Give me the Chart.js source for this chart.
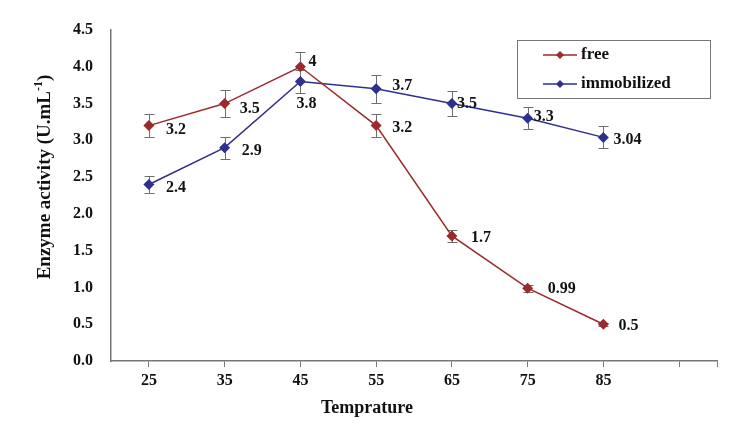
<!DOCTYPE html>
<html>
<head>
<meta charset="utf-8">
<script src="https://cdn.jsdelivr.net/npm/chart.js@4"></script>
<style>
html,body{margin:0;padding:0;background:#fff;}
#wrap{width:754px;height:435px;}
</style>
</head>
<body>
<div id="wrap"><canvas id="c" width="754" height="435"></canvas></div>
<script>
const temps = [25, 35, 45, 55, 65, 75, 85];
const xTickValues = [25, 35, 45, 55, 65, 75, 85, 95, 100];
const yTicks = [0, 0.5, 1.0, 1.5, 2.0, 2.5, 3.0, 3.5, 4.0, 4.5];
const freeVals = [3.2, 3.5, 4, 3.2, 1.7, 0.99, 0.5];
const freeErr = [0.16, 0.18, 0.2, 0.16, 0.08, 0.05, 0.02];
const freeLabels = ['3.2', '3.5', '4', '3.2', '1.7', '0.99', '0.5'];
const immVals = [2.4, 2.9, 3.8, 3.7, 3.5, 3.3, 3.04];
const immErr = [0.11, 0.15, 0.15, 0.19, 0.17, 0.15, 0.15];
const immLabels = ['2.4', '2.9', '3.8', '3.7', '3.5', '3.3', '3.04'];
const yTitleMain = 'Enzyme activity (U.mL';
const yTitleSup = '-1';
const yTitleEnd = ')';
const xTitle = 'Temprature';

const FONT = '"Liberation Serif", "Times New Roman", serif';
const RED = '#9a2a2c';
const BLUE = '#2e2f8f';

// label offsets (style): [dx, dy] relative to point
const freeOff = [[17,4],[15,5],[8,-5],[16,2],[19,2],[20,1],[15,2]];
const immOff = [[17,3],[17,3],[-4,22],[16,-3],[5,0],[6,-1],[10,2]];

function pts(vals){ return temps.map((t,i)=>({x:t, y:vals[i]})); }

const errPlugin = {
  id: 'errbars',
  beforeDatasetsDraw(chart){
    const ctx = chart.ctx, xs = chart.scales.x, ys = chart.scales.y;
    ctx.save();
    ctx.strokeStyle = '#6e6e6e';
    ctx.lineWidth = 1;
    chart.data.datasets.forEach(ds=>{
      ds.err.forEach((e,i)=>{
        const x = Math.round(xs.getPixelForValue(temps[i]))+0.5;
        const yt = Math.round(ys.getPixelForValue(ds.vals[i]+e))+0.5;
        const yb = Math.round(ys.getPixelForValue(ds.vals[i]-e))+0.5;
        ctx.beginPath();
        ctx.moveTo(x, yt); ctx.lineTo(x, yb);
        ctx.moveTo(x-5, yt); ctx.lineTo(x+5, yt);
        ctx.moveTo(x-5, yb); ctx.lineTo(x+5, yb);
        ctx.stroke();
      });
    });
    ctx.restore();
  },
  afterDatasetsDraw(chart){
    const ctx = chart.ctx, xs = chart.scales.x, ys = chart.scales.y;
    ctx.save();
    ctx.fillStyle = '#111';
    ctx.font = 'bold 16px ' + FONT;
    ctx.textBaseline = 'middle';
    ctx.textAlign = 'left';
    chart.data.datasets.forEach(ds=>{
      ds.lbls.forEach((l,i)=>{
        const x = xs.getPixelForValue(temps[i]);
        const y = ys.getPixelForValue(ds.vals[i]);
        ctx.fillText(l, x + ds.off[i][0], y + ds.off[i][1]);
      });
    });
    // x axis title
    ctx.font = 'bold 18px ' + FONT;
    ctx.textAlign = 'center';
    ctx.fillText(xTitle, 367, 408);
    // y axis title (rotated, with superscript)
    ctx.save();
    ctx.translate(45, 177);
    ctx.rotate(-Math.PI/2);
    const fMain = 'bold 19px ' + FONT, fSup = 'bold 12px ' + FONT;
    ctx.font = fMain; const w1 = ctx.measureText(yTitleMain).width; const w3 = ctx.measureText(yTitleEnd).width;
    ctx.font = fSup; const w2 = ctx.measureText(yTitleSup).width;
    let sx = -(w1+w2+w3)/2;
    ctx.textAlign = 'left';
    ctx.font = fMain; ctx.fillText(yTitleMain, sx, 0); sx += w1;
    ctx.font = fSup; ctx.fillText(yTitleSup, sx, -6); sx += w2;
    ctx.font = fMain; ctx.fillText(yTitleEnd, sx, 0);
    ctx.restore();
    // legend
    const lx = 517, ly = 40, lw = 193, lh = 58;
    ctx.strokeStyle = '#777';
    ctx.lineWidth = 1;
    ctx.strokeRect(lx+0.5, ly+0.5, lw, lh);
    chart.data.datasets.forEach((ds,k)=>{
      const yy = ly + 15 + k*29;
      ctx.strokeStyle = ds.borderColor;
      ctx.lineWidth = 1.5;
      ctx.beginPath(); ctx.moveTo(543, yy); ctx.lineTo(577, yy); ctx.stroke();
      ctx.fillStyle = ds.borderColor;
      ctx.beginPath();
      ctx.moveTo(560, yy-4); ctx.lineTo(564, yy); ctx.lineTo(560, yy+4); ctx.lineTo(556, yy); ctx.closePath();
      ctx.fill();
      ctx.fillStyle = '#111';
      ctx.font = 'bold 17px ' + FONT;
      ctx.textAlign = 'left';
      ctx.fillText(ds.label, 581, yy);
    });
    ctx.restore();
  }
};

new Chart(document.getElementById('c'), {
  type: 'line',
  data: {
    datasets: [
      {label:'free', data: pts(freeVals), vals: freeVals, err: freeErr, lbls: freeLabels, off: freeOff,
       borderColor: RED, backgroundColor: RED, borderWidth: 1.5, pointStyle: 'rectRot', pointRadius: 5.5, pointBorderWidth: 0, tension: 0},
      {label:'immobilized', data: pts(immVals), vals: immVals, err: immErr, lbls: immLabels, off: immOff,
       borderColor: BLUE, backgroundColor: BLUE, borderWidth: 1.5, pointStyle: 'rectRot', pointRadius: 5.5, pointBorderWidth: 0, tension: 0}
    ]
  },
  options: {
    responsive: false,
    animation: false,
    layout: {padding: {left: 0, right: 37, top: 30, bottom: 0}},
    plugins: {legend: {display: false}, tooltip: {enabled: false}},
    scales: {
      x: {
        type: 'linear', min: 20, max: 100,
        afterBuildTicks(s){ s.ticks = xTickValues.map(v=>({value:v})); },
        afterFit(s){ s.height = 74; },
        ticks: {
          autoSkip: false, maxRotation: 0, padding: 4, color: '#111',
          font: {family: FONT, size: 16, weight: 'bold'},
          callback(v){ return v <= 85 ? String(v) : ''; }
        },
        grid: {display: true, drawOnChartArea: false, drawTicks: true, tickLength: 6, color: '#777'},
        border: {display: true, color: '#777', width: 1.5}
      },
      y: {
        min: 0, max: 4.5,
        afterBuildTicks(s){ s.ticks = yTicks.map(v=>({value:v})); },
        afterFit(s){ s.width = 111; },
        ticks: {
          padding: 10, color: '#111',
          font: {family: FONT, size: 16, weight: 'bold'},
          callback(v){ return v.toFixed(1); }
        },
        grid: {display: false},
        border: {display: true, color: '#777', width: 1.5}
      }
    }
  },
  plugins: [errPlugin]
});
</script>
</body>
</html>
